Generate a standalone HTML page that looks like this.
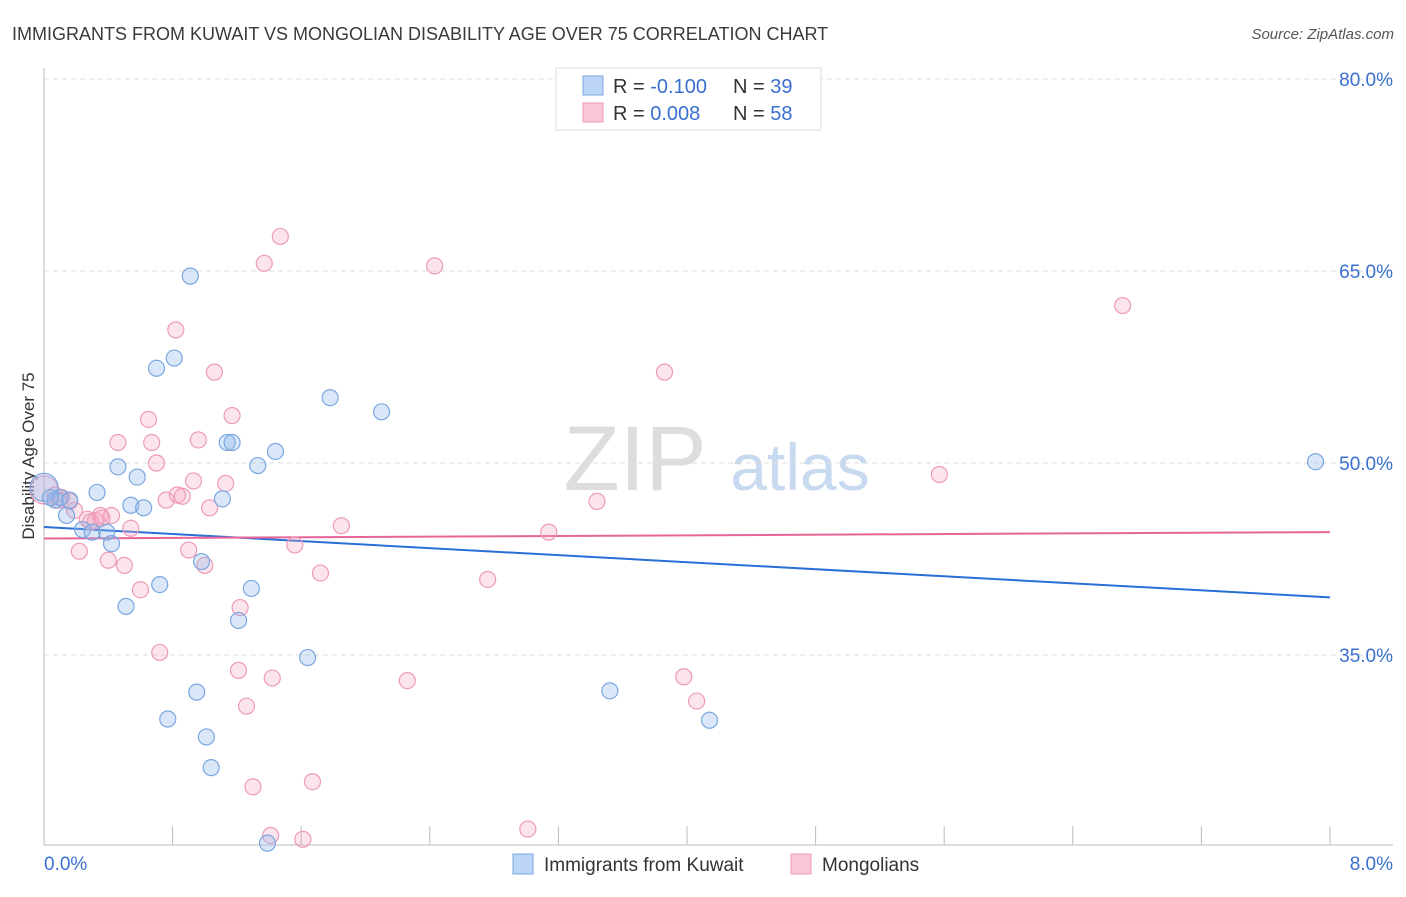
<!DOCTYPE html>
<html><head><meta charset="utf-8"><style>
body{margin:0;background:#fff;font-family:"Liberation Sans",sans-serif;}
svg text{font-family:"Liberation Sans",sans-serif;}
</style></head><body>
<svg id="chart" width="1406" height="892" xmlns="http://www.w3.org/2000/svg">
<text x="12" y="40" font-size="18" fill="#3a3a3a">IMMIGRANTS FROM KUWAIT VS MONGOLIAN DISABILITY AGE OVER 75 CORRELATION CHART</text>
<text x="1394" y="39" font-size="15" fill="#555" font-style="italic" text-anchor="end">Source: ZipAtlas.com</text>
<text x="34" y="456" font-size="17" fill="#333" text-anchor="middle" transform="rotate(-90 34 456)">Disability Age Over 75</text>
<g>
<text x="635" y="490" font-size="92" fill="#ddd" font-family="Liberation Serif" text-anchor="middle">ZIP</text>
<text x="800" y="490" font-size="66" fill="#c8daf0" text-anchor="middle">atlas</text>
</g>
<g id="grid"></g><g id="axes"></g><g id="trends"></g><g id="points"></g>
<g>
<rect x="556" y="68" width="265" height="62" fill="#fff" stroke="#ddd"/>
<rect x="583" y="76" width="20" height="19" fill="#bcd4f5" stroke="#7aa7e0"/>
<rect x="583" y="103" width="20" height="19" fill="#f9c6d6" stroke="#ee9ab8"/>
<text x="613" y="93" font-size="20" fill="#333">R = <tspan fill="#3a6fd0">-0.100</tspan></text>
<text x="733" y="93" font-size="20" fill="#333">N = <tspan fill="#3a6fd0">39</tspan></text>
<text x="613" y="120" font-size="20" fill="#333">R = <tspan fill="#3a6fd0"> 0.008</tspan></text>
<text x="733" y="120" font-size="20" fill="#333">N = <tspan fill="#3a6fd0">58</tspan></text>
</g>
<g>
<rect x="513" y="854" width="20" height="20" fill="#bcd4f5" stroke="#7aa7e0"/>
<text x="544" y="871" font-size="19" fill="#333">Immigrants from Kuwait</text>
<rect x="791" y="854" width="20" height="20" fill="#f9c6d6" stroke="#ee9ab8"/>
<text x="822" y="871" font-size="19" fill="#333">Mongolians</text>
</g>
</svg>
<script>
const yTicks=[35,50,65,80];
const xTickLabels=["0.0%","8.0%"];
const blueX=[0,.07,.14,.24,.30,.33,.39,.42,.46,.51,.54,.58,.62,.70,.72,.77,.81,.91,.95,.98,1.01,1.04,1.11,1.14,1.17,1.21,1.29,1.33,1.39,1.44,1.64,1.78,2.10,3.52,4.14,7.91,.10,.16,.04];
const blueY=[48.1,47.1,45.9,44.8,44.6,47.7,44.6,43.7,49.7,38.8,46.7,48.9,46.5,57.4,40.5,30.0,58.2,64.6,32.1,42.3,28.6,26.2,47.2,51.6,51.6,37.7,40.2,49.8,20.3,50.9,34.8,55.1,54.0,32.2,29.9,50.1,47.3,47.1,47.3];
const pinkX=[0,.07,.11,.16,.19,.22,.27,.32,.35,.40,.42,.46,.50,.54,.60,.65,.67,.70,.72,.76,.82,.83,.86,.90,.93,.96,1.00,1.03,1.06,1.13,1.17,1.21,1.22,1.26,1.30,1.37,1.41,1.42,1.47,1.56,1.61,1.67,1.72,1.85,2.26,2.43,2.76,3.01,3.14,3.44,3.86,3.98,4.06,5.57,6.71,.09,.36,.29];
const pinkY=[47.9,47.5,47.3,47.0,46.3,43.1,45.6,45.5,45.9,42.4,45.9,51.6,42.0,44.9,40.1,53.4,51.6,50.0,35.2,47.1,60.4,47.5,47.4,43.2,48.6,51.8,42.0,46.5,57.1,48.4,53.7,33.8,38.7,31.0,24.7,65.6,20.9,33.2,67.7,43.6,20.6,25.1,41.4,45.1,33.0,65.4,40.9,21.4,44.6,47.0,57.1,33.3,31.4,49.1,62.3,47.1,45.7,45.4];
const blueTrend=[45.0,39.5];
const pinkTrend=[44.1,44.6];
const NS="http://www.w3.org/2000/svg";
const X=v=>44+v*160.75, Y=v=>463-(v-50)*12.8;
function mk(t,a,p){const e=document.createElementNS(NS,t);for(const k in a)e.setAttribute(k,a[k]);document.getElementById(p).appendChild(e);return e;}
yTicks.forEach(t=>{
 const l=mk('line',{x1:44,x2:1393,y1:Y(t),y2:Y(t),stroke:'#ddd','stroke-dasharray':'5,4'},'grid');
 
 
 const tx=mk('text',{x:1393,y:Y(t)+7,'font-size':19,fill:'#3a6fd0','text-anchor':'end'},'grid');
 tx.textContent=t.toFixed(1)+'%';
 
 
});
mk('line',{x1:44,x2:44,y1:68,y2:845,stroke:'#bbb'},'axes');
mk('line',{x1:44,x2:1393,y1:845,y2:845,stroke:'#bbb'},'axes');
for(let i=0;i<=10;i++){const t=mk('line',{x1:X(i*0.8),x2:X(i*0.8),y1:826,y2:845,stroke:'#bbb'},'axes');
 
 }
const xl0=mk('text',{x:44,y:870,'font-size':19,fill:'#3a6fd0'},'axes');xl0.textContent=xTickLabels[0];


const xl1=mk('text',{x:1393,y:870,'font-size':19,fill:'#3a6fd0','text-anchor':'end'},'axes');xl1.textContent=xTickLabels[1];


function pts(xs,ys,fill,stroke,name){xs.forEach((x,i)=>{const c=mk('circle',{cx:X(x),cy:Y(ys[i]),r:i===0?14:8,fill:fill,stroke:stroke,'stroke-width':1.2},'points');
 
 });}
pts(pinkX,pinkY,'rgba(244,166,192,0.3)','#ee9ab8','point-mongolians');
pts(blueX,blueY,'rgba(147,187,235,0.35)','#7aa7e0','point-kuwait');
const bt=mk('line',{x1:X(0),x2:X(8),y1:Y(blueTrend[0]),y2:Y(blueTrend[1]),stroke:'#2a6fd6','stroke-width':2},'trends');


const pt=mk('line',{x1:X(0),x2:X(8),y1:Y(pinkTrend[0]),y2:Y(pinkTrend[1]),stroke:'#e8659a','stroke-width':2},'trends');


</script>
</body></html>
